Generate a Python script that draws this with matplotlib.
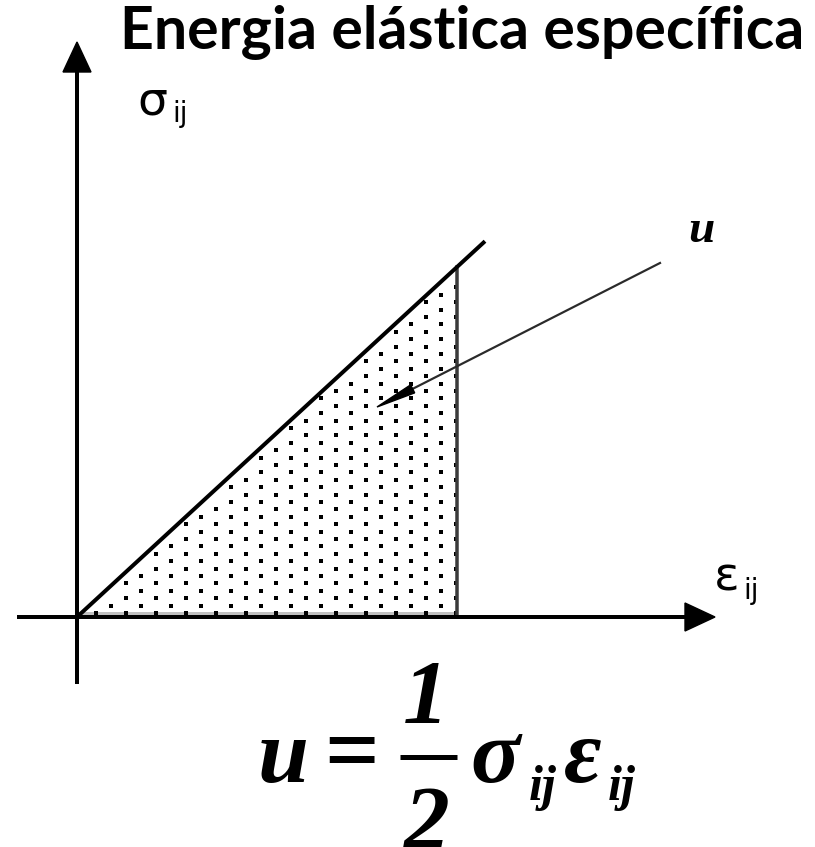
import numpy as np
import matplotlib
matplotlib.use("Agg")
import matplotlib.pyplot as plt
from matplotlib.patches import Polygon

# ---- data (strain / stress in drawing units) ----
strain_max = 380.0          # end of loading (vertical boundary of the area)
stress_max = 350.0          # stress reached at strain_max
line_overshoot = 408.0      # elastic line drawn a bit past the end point
x_axis_range = (-58.0, 638.0)
y_axis_range = (-65.0, 575.0)
pointer_start = (583.0, 354.0)
pointer_tip = (300.0, 210.0)

title_text = "Energia elástica específica"
sigma_label = "σ"
eps_label = "ε"
index_label = "ij"
energy_label = "u"

W, H = 815, 847
fig = plt.figure(figsize=(W / 100, H / 100), dpi=100)
ax = fig.add_axes([0, 0, 1, 1])
ax.set_xlim(-77, W - 77)
ax.set_ylim(-(H - 617), 617)
ax.axis("off")

PT = 72 / 100  # points per pixel

# ---- dotted area under the line ----
slope = stress_max / strain_max
ax.plot([0, strain_max], [3, 3], color="#c0c0c0", lw=4 * PT, solid_capstyle="butt", zorder=1)
dy = 7.4
xs, ys = [], []
j = 0
yrow = 4.0
while yrow < stress_max:
    x0 = 19.0 if j % 2 == 0 else 34.0
    xv = np.arange(x0, strain_max + 1, 30.0)
    keep = yrow < slope * xv - 6
    xs.extend(xv[keep]); ys.extend([yrow] * int(keep.sum()))
    j += 1
    yrow += dy
ax.plot(xs, ys, ls="none", marker="s", ms=3.3 * PT, mew=0, color="black", zorder=2)

# ---- vertical boundary and elastic line ----
ax.plot([strain_max, strain_max], [0, stress_max], color="#3a3a3a", lw=3.5 * PT, zorder=3)
ax.plot([0, line_overshoot], [0, slope * line_overshoot], color="black", lw=4 * PT,
        solid_capstyle="butt", zorder=4)

# ---- coordinate axes with arrowheads ----
head_len, head_half = 30.0, 14.0
ax.plot([x_axis_range[0], x_axis_range[1] - head_len], [0, 0], color="black", lw=4 * PT, zorder=5)
ax.plot([0, 0], [y_axis_range[0], y_axis_range[1] - head_len], color="black", lw=4 * PT, zorder=5)
xt = x_axis_range[1]
ax.add_patch(Polygon([[xt, 0], [xt - head_len, head_half], [xt - head_len, -head_half]],
                     closed=True, color="black", zorder=5))
yt = y_axis_range[1]
ax.add_patch(Polygon([[0, yt], [-head_half, yt - head_len], [head_half, yt - head_len]],
                     closed=True, color="black", zorder=5))

# ---- pointer to the area ----
p0 = np.array(pointer_start); p1 = np.array(pointer_tip)
d = (p1 - p0) / np.linalg.norm(p1 - p0)
n = np.array([-d[1], d[0]])
plen, phw = 40.0, 4.5
base = p1 - d * plen
ax.plot([p0[0], base[0]], [p0[1], base[1]], color="#2a2a2a", lw=2.2 * PT, zorder=6)
ax.add_patch(Polygon([p1, base + n * phw, base - n * phw], closed=True, color="black", zorder=6))

# ---- labels ----
sans = ["DejaVu Sans"]
ax.text(60, 503, sigma_label, fontsize=34, family=sans, ha="left", va="baseline")
ax.text(95, 495, index_label, fontsize=20, family=sans, ha="left", va="baseline")
ax.text(637, 27, eps_label, fontsize=34, family=sans, ha="left", va="baseline")
ax.text(666, 18, index_label, fontsize=20, family=sans, ha="left", va="baseline")
ax.text(611, 375, energy_label, fontsize=34, family=["Liberation Serif"], weight="bold",
        style="italic", ha="left", va="baseline")

ax.text(43, 568, title_text, fontsize=42.5, family=["Lato"], weight="bold",
        ha="left", va="baseline")

# ---- formula u = 1/2 sigma_ij eps_ij ----
serif = dict(family=["Liberation Serif"], weight="bold", style="italic", color="black")
fs = 66
ax.text(181, -165, "u", fontsize=fs, ha="left", va="baseline", **serif)
ax.text(275, -165, "=", fontsize=fs * 1.05, ha="center", va="baseline",
        family=["Liberation Serif"], weight="bold")
ax.plot([323, 380], [-140, -140], color="black", lw=5 * PT, solid_capstyle="butt")
ax.text(349, -106, "1", fontsize=fs, ha="center", va="baseline", **serif)
ax.text(349, -232, "2", fontsize=fs, ha="center", va="baseline", **serif)
ax.text(393, -165, "σ", fontsize=fs, ha="left", va="baseline", **serif)
ax.text(452, -183, index_label, fontsize=36, ha="left", va="baseline", **serif)
ax.text(487, -165, "ε", fontsize=fs, ha="left", va="baseline", **serif)
ax.text(531, -183, index_label, fontsize=36, ha="left", va="baseline", **serif)

fig.savefig("out.png", dpi=100, facecolor="white")
